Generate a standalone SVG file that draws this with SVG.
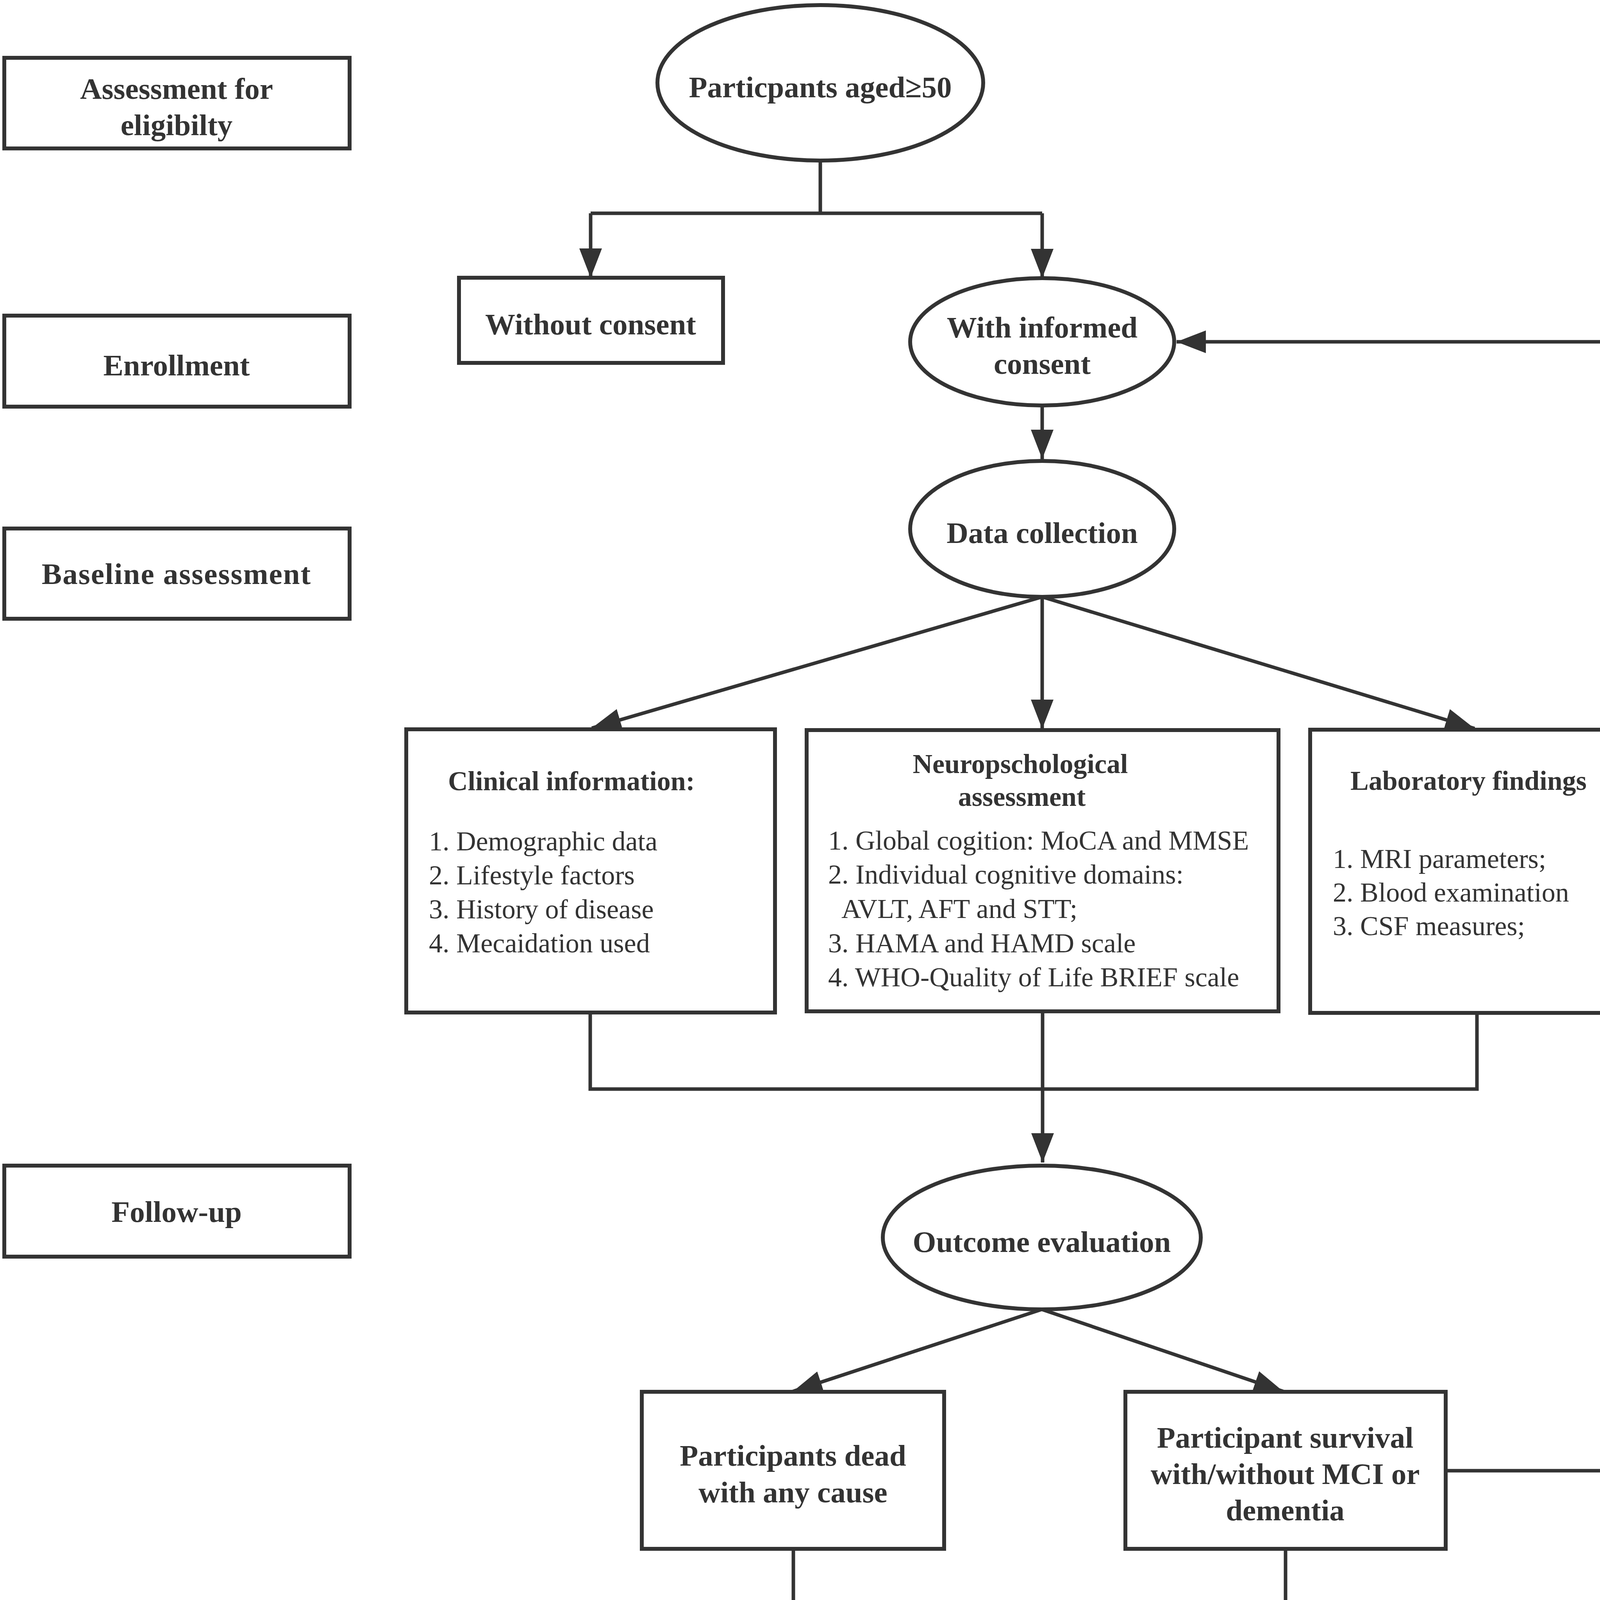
<svg xmlns="http://www.w3.org/2000/svg" width="4655" height="4844" viewBox="0 0 4655 4844">
<style>
.box{fill:#fff;stroke:#333;stroke-width:10}
.conn{fill:none;stroke:#333;stroke-width:9}
.lbl{font-family:"Liberation Serif","Times New Roman",serif;font-weight:bold;font-size:77px;fill:#333;text-anchor:middle}
.hd{font-family:"Liberation Serif","Times New Roman",serif;font-weight:bold;font-size:70px;fill:#333}
.it{font-family:"Liberation Serif","Times New Roman",serif;font-size:70px;fill:#333}
</style>
<defs>
<marker id="ah" viewBox="0 0 75 58" refX="75" refY="29" markerWidth="75" markerHeight="58" markerUnits="userSpaceOnUse" orient="auto">
<path d="M0,0 L75,29 L0,58 z" fill="#333"/>
</marker>
</defs>
<rect width="4655" height="4844" fill="#fff"/>

<g id="connectors">
<path class="conn" d="M2100,415 V546 M1512,546 H2668"/>
<path class="conn" d="M1512,546 V711" marker-end="url(#ah)"/>
<path class="conn" d="M2668,546 V712" marker-end="url(#ah)"/>
<path class="conn" d="M2668,1038 V1175" marker-end="url(#ah)"/>
<path class="conn" d="M2668,1528 L1515,1864" marker-end="url(#ah)"/>
<path class="conn" d="M2668,1528 V1866" marker-end="url(#ah)"/>
<path class="conn" d="M2668,1528 L3775,1865" marker-end="url(#ah)"/>
<path class="conn" d="M1511,2596 V2788 H3781 V2597"/>
<path class="conn" d="M2669,2593 V2976" marker-end="url(#ah)"/>
<path class="conn" d="M2667,3352 L2030,3562" marker-end="url(#ah)"/>
<path class="conn" d="M2667,3352 L3285,3562" marker-end="url(#ah)"/>
<path class="conn" d="M2031,3969 V4134 H3291 V3969"/>
<path class="conn" d="M2669,4134 V4419" marker-end="url(#ah)"/>
<path class="conn" d="M3705,3765 H4562 V3129"/>
<path class="conn" d="M4562,1654 V875 H3012" marker-end="url(#ah)"/>
</g>

<g id="stage-eligibility">
<rect class="box" x="11" y="148" width="884" height="232"/>
<text class="lbl" x="452" y="253">Assessment for</text>
<text class="lbl" x="452" y="346">eligibilty</text>
</g>
<g id="stage-enrollment">
<rect class="box" x="11" y="808" width="884" height="233"/>
<text class="lbl" x="452" y="961">Enrollment</text>
</g>
<g id="stage-baseline">
<rect class="box" x="11" y="1353" width="884" height="231"/>
<text class="lbl" x="452" y="1495" letter-spacing="2">Baseline assessment</text>
</g>
<g id="stage-followup">
<rect class="box" x="11" y="2984" width="884" height="233"/>
<text class="lbl" x="452" y="3128">Follow-up</text>
</g>

<g id="participants">
<ellipse class="box" cx="2100" cy="212" rx="417" ry="199"/>
<text class="lbl" x="2100" y="249">Particpants aged≥50</text>
</g>
<g id="without-consent">
<rect class="box" x="1175" y="711" width="676" height="218"/>
<text class="lbl" x="1512" y="856">Without consent</text>
</g>
<g id="with-consent">
<ellipse class="box" cx="2668" cy="875" rx="338" ry="163"/>
<text class="lbl" x="2668" y="864">With informed</text>
<text class="lbl" x="2668" y="957">consent</text>
</g>
<g id="data-collection">
<ellipse class="box" cx="2668" cy="1354" rx="338" ry="174"/>
<text class="lbl" x="2668" y="1390">Data collection</text>
</g>

<g id="clinical">
<rect class="box" x="1040" y="1867" width="944" height="725"/>
<text class="hd" x="1147" y="2023">Clinical information:</text>
<text class="it" x="1098" y="2177">1. Demographic data</text>
<text class="it" x="1098" y="2264">2. Lifestyle factors</text>
<text class="it" x="1098" y="2351">3. History of disease</text>
<text class="it" x="1098" y="2438">4. Mecaidation used</text>
</g>
<g id="neuro">
<rect class="box" x="2065" y="1869" width="1208" height="720"/>
<text class="hd" x="2612" y="1979" text-anchor="middle">Neuropschological</text>
<text class="hd" x="2616" y="2063" text-anchor="middle">assessment</text>
<text class="it" x="2120" y="2175">1. Global cogition: MoCA and MMSE</text>
<text class="it" x="2120" y="2262">2. Individual cognitive domains:</text>
<text class="it" x="2154" y="2350">AVLT, AFT and STT;</text>
<text class="it" x="2120" y="2438">3. HAMA and HAMD scale</text>
<text class="it" x="2120" y="2525">4. WHO-Quality of Life BRIEF scale</text>
</g>
<g id="lab">
<rect class="box" x="3354" y="1868" width="853" height="725"/>
<text class="hd" x="3457" y="2022">Laboratory findings</text>
<text class="it" x="3412" y="2222">1. MRI parameters;</text>
<text class="it" x="3412" y="2308">2. Blood examination</text>
<text class="it" x="3412" y="2394">3. CSF measures;</text>
</g>

<g id="followup-year">
<rect class="box" x="4472" y="1658" width="170" height="1467"/>
<text class="lbl" transform="translate(4531,2396) rotate(90)">Follow-up for every year</text>
</g>

<g id="outcome">
<ellipse class="box" cx="2667" cy="3168" rx="407" ry="184"/>
<text class="lbl" x="2667" y="3205">Outcome evaluation</text>
</g>
<g id="dead">
<rect class="box" x="1643" y="3563" width="774" height="402"/>
<text class="lbl" x="2030" y="3752">Participants dead</text>
<text class="lbl" x="2030" y="3846">with any cause</text>
</g>
<g id="survival">
<rect class="box" x="2881" y="3563" width="820" height="402"/>
<text class="lbl" x="3290" y="3706">Participant survival</text>
<text class="lbl" x="3290" y="3799">with/without MCI or</text>
<text class="lbl" x="3290" y="3892">dementia</text>
</g>
<g id="statistics">
<ellipse class="box" cx="2667" cy="4620" rx="378" ry="197"/>
<text class="lbl" x="2667" y="4610">Statisctical</text>
<text class="lbl" x="2667" y="4702">analyses</text>
</g>
</svg>
